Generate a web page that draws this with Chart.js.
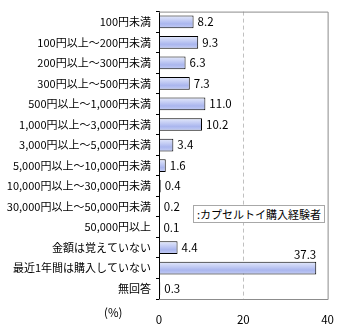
<!DOCTYPE html>
<html><head><meta charset="utf-8">
<script src="https://cdn.jsdelivr.net/npm/chart.js@4.4.1/dist/chart.umd.min.js"></script>
<style>
html,body{margin:0;padding:0;background:#fff;}
#wrap{position:relative;width:340px;height:330px;}
#legend{position:absolute;left:193px;top:205px;width:127px;height:16px;border:1px solid #a8a8a8;background:#fff;font:11px "Noto Sans CJK JP";line-height:16px;padding-left:3px;box-sizing:content-box;color:#000;white-space:nowrap;}
#unit{position:absolute;left:104px;top:304px;font:11.5px "Noto Sans CJK JP";color:#000;}
</style></head>
<body><div id="wrap"><canvas id="c" width="340" height="330"></canvas>
<div id="legend">:カプセルトイ購入経験者</div>
<div id="unit">(%)</div></div>
<script>
const cats = ["100円未満","100円以上～200円未満","200円以上～300円未満","300円以上～500円未満","500円以上～1,000円未満","1,000円以上～3,000円未満","3,000円以上～5,000円未満","5,000円以上～10,000円未満","10,000円以上～30,000円未満","30,000円以上～50,000円未満","50,000円以上","金額は覚えていない","最近1年間は購入していない","無回答"];
const values = [8.2,9.3,6.3,7.3,11.0,10.2,3.4,1.6,0.4,0.2,0.1,4.4,37.3,0.3];
const xTicks = [0,20,40];
const FONT = '"Noto Sans CJK JP"';

const frame = {
  id:'frame',
  beforeDatasetsDraw(chart){
    const {ctx, chartArea:a} = chart;
    const xs = chart.scales.x;
    ctx.save();
    ctx.strokeStyle='#c0c0c0'; ctx.lineWidth=1; ctx.setLineDash([4,3]);
    const gx = Math.round(xs.getPixelForValue(20)) + 0.5;
    ctx.beginPath(); ctx.moveTo(gx, a.top); ctx.lineTo(gx, a.bottom); ctx.stroke();
    ctx.setLineDash([]);
    ctx.strokeStyle='#8c8c8c';
    ctx.beginPath();
    ctx.moveTo(a.left, a.top+0.5); ctx.lineTo(a.right+0.5, a.top+0.5);
    ctx.lineTo(a.right+0.5, a.bottom+0.5); ctx.lineTo(a.left, a.bottom+0.5);
    ctx.stroke();
    ctx.restore();
  }
};
const valueLabels = {
  id:'valueLabels',
  afterDatasetsDraw(chart){
    const {ctx} = chart;
    const meta = chart.getDatasetMeta(0);
    ctx.save();
    ctx.font = '11.5px ' + FONT;
    ctx.fillStyle = '#000';
    meta.data.forEach((bar,i)=>{
      const v = values[i];
      const txt = v.toFixed(1);
      if (v > 30) {
        ctx.textAlign='right'; ctx.textBaseline='bottom';
        ctx.fillText(txt, bar.x, bar.y - bar.height/2 - 1);
      } else {
        ctx.textAlign='left'; ctx.textBaseline='middle';
        ctx.fillText(txt, bar.x + 4, bar.y);
      }
    });
    ctx.restore();
  }
};

function barFill(c){
  const chart = c.chart;
  const ys = chart.scales && chart.scales.y;
  if (!chart.chartArea || !ys) return '#b8c3f0';
  const y = ys.getPixelForValue(c.dataIndex);
  const h = 13;
  const g = chart.ctx.createLinearGradient(0, y-h/2, 0, y+h/2);
  g.addColorStop(0,'#e6ebfc');
  g.addColorStop(0.65,'#aab6ee');
  g.addColorStop(1,'#c6cff5');
  return g;
}

new Chart(document.getElementById('c'), {
  type:'bar',
  data:{ labels: cats, datasets:[{ data: values, backgroundColor: barFill, borderColor:'#000000', borderWidth:1, borderSkipped:false, categoryPercentage:1, barPercentage:0.62 }]},
  options:{
    indexAxis:'y', responsive:false, animation:false, devicePixelRatio:1,
    layout:{ padding:{ top:5, right:9, left:0, bottom:0 } },
    plugins:{ legend:{display:false}, tooltip:{enabled:false} },
    scales:{
      y:{
        offset:true,
        afterFit(s){ s.width = 159; },
        grid:{ offset:true, drawOnChartArea:false, drawTicks:true, tickLength:3, color:'#000' },
        border:{ display:true, color:'#000', width:1 },
        ticks:{ font:{ family:FONT, size:11 }, color:'#000', padding:5, autoSkip:false }
      },
      x:{
        min:0, max:40,
        afterFit(s){ s.height = 31; },
        afterBuildTicks(s){ s.ticks = xTicks.map(v=>({value:v})); },
        grid:{ display:false },
        border:{ display:false },
        ticks:{ font:{ family:FONT, size:11.5 }, color:'#000', padding:6, maxRotation:0 }
      }
    }
  },
  plugins:[frame, valueLabels]
});
</script>
</body></html>
